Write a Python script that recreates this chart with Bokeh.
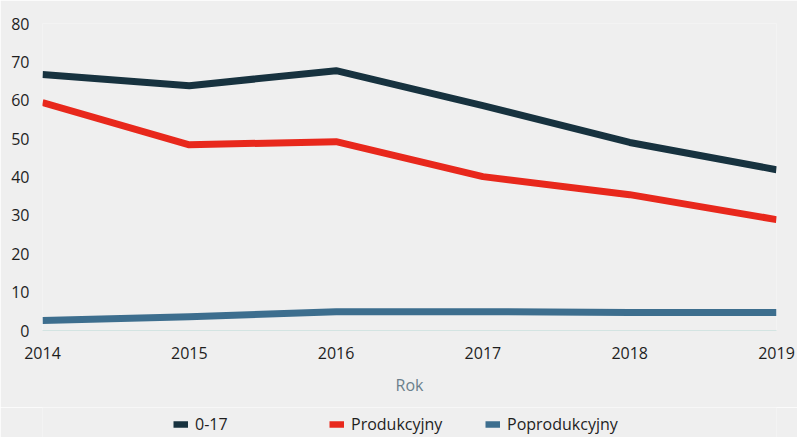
from bokeh.plotting import figure
from bokeh.layouts import column
from bokeh.models import Legend, LegendItem, Range1d, FixedTicker
from bokeh.embed import file_html
from bokeh.resources import INLINE

years = [2014, 2015, 2016, 2017, 2018, 2019]
s_017 = [66.7, 63.8, 67.7, 58.6, 49.0, 41.9]
s_prod = [59.4, 48.4, 49.2, 40.1, 35.4, 28.9]
s_poprod = [2.6, 3.6, 4.9, 4.9, 4.7, 4.7]
names = ["0-17", "Produkcyjny", "Poprodukcyjny"]
colors = ["#17323f", "#e8281c", "#3d6e8e"]
y_ticks = [0, 10, 20, 30, 40, 50, 60, 70, 80]

FONT = "Open Sans"
BG = "#efefef"
series = [s_017, s_prod, s_poprod]

p = figure(width=797, height=407, output_backend="svg", toolbar_location=None,
           x_range=Range1d(2014, 2019), y_range=Range1d(0, 80),
           background_fill_color=BG, border_fill_color=BG,
           min_border_left=42, min_border_right=21, min_border_top=23,
           min_border_bottom=77)
p.outline_line_color = None
p.grid.visible = False

for ser, c in zip(series, colors):
    p.line(years, ser, line_color=c, line_width=7, line_join="round")

p.xaxis.ticker = FixedTicker(ticks=years)
p.yaxis.ticker = FixedTicker(ticks=y_ticks)
for ax in (p.xaxis, p.yaxis):
    ax.major_tick_line_color = None
    ax.minor_tick_line_color = None
    ax.major_label_text_font = FONT
    ax.major_label_text_font_size = "16px"
    ax.major_label_text_color = "#1e1e1e"
p.yaxis.axis_line_color = None
p.yaxis.major_label_standoff = 7
p.xaxis.axis_line_color = "#d3e4e2"
p.xaxis.axis_line_width = 1
p.xaxis.major_label_standoff = 10
p.xaxis.axis_label = "Rok"
p.xaxis.axis_label_text_font = FONT
p.xaxis.axis_label_text_font_size = "16px"
p.xaxis.axis_label_text_font_style = "normal"
p.xaxis.axis_label_text_color = "#6a7f8c"
p.xaxis.axis_label_standoff = 12

# legend strip (series drawn outside its visible range; only legend shows)
q = figure(width=797, height=30, output_backend="svg", toolbar_location=None,
           x_range=Range1d(0, 1), y_range=Range1d(0, 1),
           background_fill_color=BG, border_fill_color=BG,
           min_border_left=0, min_border_right=0, min_border_top=0,
           min_border_bottom=0)
q.outline_line_color = None
q.grid.visible = False
q.axis.visible = False
leg_renderers = [q.line(years, ser, line_color=c, line_width=6.5)
                 for ser, c in zip(series, colors)]

items = [LegendItem(label=n, renderers=[r]) for n, r in zip(names, leg_renderers)]
legend = Legend(items=items, orientation="horizontal", location=(131, 2),
                glyph_width=15, glyph_height=20, label_standoff=7, label_width=134,
                label_height=20, spacing=0, padding=0, margin=0,
                label_text_font=FONT, label_text_font_size="16px",
                label_text_color="#1e1e1e", background_fill_alpha=0,
                border_line_color=None)
q.add_layout(legend, "center")

layout = column(p, q, spacing=0)
open("out.html", "w").write(file_html(layout, INLINE))
